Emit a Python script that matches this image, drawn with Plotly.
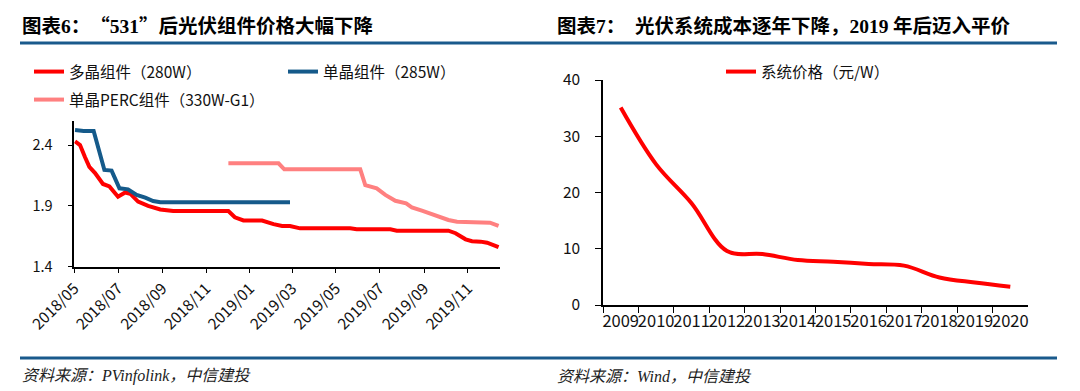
import plotly.graph_objects as go

# ---------------- Chart 6: module prices (元/W) ----------------
poly_dates = ["2018-05-02", "2018-05-09", "2018-05-16", "2018-05-22", "2018-05-30",
              "2018-06-10", "2018-06-19", "2018-07-01", "2018-07-11", "2018-07-18",
              "2018-07-29", "2018-08-12", "2018-08-29", "2018-09-16", "2018-12-02",
              "2018-12-11", "2018-12-23", "2019-01-18", "2019-02-03", "2019-02-15",
              "2019-02-26", "2019-03-12", "2019-05-21", "2019-05-30", "2019-07-16",
              "2019-07-25", "2019-10-05", "2019-10-15", "2019-10-29", "2019-11-07",
              "2019-11-19", "2019-11-28", "2019-12-14"]
poly_vals = [2.43, 2.40, 2.30, 2.22, 2.17,
             2.08, 2.06, 1.975, 2.01, 2.00,
             1.935, 1.90, 1.87, 1.857, 1.857,
             1.806, 1.78, 1.78, 1.75, 1.735,
             1.735, 1.715, 1.715, 1.707, 1.707,
             1.696, 1.696, 1.675, 1.625, 1.61,
             1.606, 1.597, 1.56]

mono_dates = ["2018-05-02", "2018-05-14", "2018-05-28", "2018-06-12", "2018-06-22",
              "2018-07-03", "2018-07-15", "2018-07-27", "2018-08-08", "2018-08-19",
              "2018-08-29", "2019-02-26"]
mono_vals = [2.523, 2.515, 2.515, 2.195, 2.19,
             2.044, 2.036, 1.99, 1.967, 1.94,
             1.93, 1.93]

perc_dates = ["2018-12-02", "2019-02-10", "2019-02-18", "2019-06-04", "2019-06-11",
              "2019-06-18", "2019-06-27", "2019-07-09", "2019-07-23", "2019-08-07",
              "2019-08-15", "2019-08-29", "2019-09-19", "2019-10-05", "2019-10-17",
              "2019-11-26", "2019-12-02", "2019-12-14"]
perc_vals = [2.25, 2.25, 2.20, 2.20, 2.07,
             2.057, 2.044, 1.99, 1.942, 1.92,
             1.888, 1.86, 1.817, 1.784, 1.77,
             1.77, 1.762, 1.735]

# ---------------- Chart 7: system price (元/W) ----------------
years = ["2009", "2010", "2011", "2012", "2013", "2014",
         "2015", "2016", "2017", "2018", "2019", "2020"]
system_price = [35.1, 25.0, 18.1, 9.6, 9.05, 8.0, 7.7, 7.3, 7.0, 4.9, 4.0, 3.25]

W, H = 1080, 391
def fx(px):
    return px / W
def fy(py):
    return 1 - py / H

CJK = "Noto Sans CJK SC"
SERIF = "Liberation Serif"
RULE = "#1A5A8C"

fig = go.Figure()
fig.add_trace(go.Scatter(x=poly_dates, y=poly_vals, name="多晶组件（280W）", mode="lines",
                         line=dict(color="#FF0000", width=4), xaxis="x", yaxis="y",
                         legend="legend"))
fig.add_trace(go.Scatter(x=mono_dates, y=mono_vals, name="单晶组件（285W）", mode="lines",
                         line=dict(color="#155A8A", width=4), xaxis="x", yaxis="y",
                         legend="legend2"))
fig.add_trace(go.Scatter(x=perc_dates, y=perc_vals, name="单晶PERC组件（330W-G1）", mode="lines",
                         line=dict(color="#FF8080", width=4), xaxis="x", yaxis="y",
                         legend="legend3"))
fig.add_trace(go.Scatter(x=years, y=system_price, name="系统价格（元/W）", mode="lines",
                         line=dict(color="#FF0000", width=4, shape="spline", smoothing=1.0),
                         xaxis="x2", yaxis="y2", legend="legend4"))

axis_common = dict(showline=True, linecolor="black", linewidth=1.5, ticks="outside",
                   tickcolor="black", tickwidth=1.2, showgrid=False, zeroline=False,
                   automargin=False)

leg_common = dict(xanchor="left", yanchor="middle", bgcolor="rgba(0,0,0,0)",
                  font=dict(family=CJK, size=15.5, color="#111"), borderwidth=0)

fig.update_layout(
    width=W, height=H,
    margin=dict(l=0, r=0, t=0, b=0, pad=0, autoexpand=False),
    paper_bgcolor="white", plot_bgcolor="white",
    font=dict(family=CJK, color="#111"),
    xaxis=dict(domain=[fx(74.3), fx(500)], type="date",
               range=["2018-05-01", "2019-12-16"], tick0="2018-05-01", dtick="M2",
               tickformat="%Y/%m", tickangle=-45, ticklen=5,
               tickfont=dict(family=CJK, size=15.5, color="#111"), anchor="y",
               **axis_common),
    yaxis=dict(domain=[fy(266.7), fy(120.7)], range=[1.4, 2.6], tick0=1.4, dtick=0.5,
               tickformat=".1f", ticklen=5, ticklabelstandoff=12,
               tickfont=dict(family=CJK, size=14.5, color="#111"), anchor="x",
               **axis_common),
    xaxis2=dict(domain=[fx(603), fx(1028)], type="category",
                categoryorder="array", categoryarray=years, range=[-0.5, 11.5],
                tickson="boundaries", ticklen=6, tickangle=0,
                tickfont=dict(family=CJK, size=16.5, color="#111"), anchor="y2",
                **axis_common),
    yaxis2=dict(domain=[fy(305), fy(80)], range=[0, 40], dtick=10, ticklen=6,
                ticklabelstandoff=12,
                tickfont=dict(family=CJK, size=15.5, color="#111"), anchor="x2",
                **axis_common),
    legend=dict(x=fx(29), y=fy(72), **leg_common),
    legend2=dict(x=fx(283), y=fy(72), **leg_common),
    legend3=dict(x=fx(29), y=fy(100), **leg_common),
    legend4=dict(x=fx(721), y=fy(72), **leg_common),
    showlegend=True,
)

# title rule and bottom rule
fig.add_shape(type="line", xref="paper", yref="paper", x0=fx(20), x1=fx(1057),
              y0=fy(43), y1=fy(43), line=dict(color=RULE, width=3))
fig.add_shape(type="line", xref="paper", yref="paper", x0=fx(20), x1=fx(1057),
              y0=fy(358), y1=fy(358), line=dict(color=RULE, width=3))

def serif(s):
    return f"<span style=\"font-family:'{SERIF}'\">{s}</span>"

title6 = f"<b>图表{serif('6')}：\u3000“{serif('531')}”后光伏组件价格大幅下降</b>"
title7 = f"<b>图表{serif('7')}：\u3000光伏系统成本逐年下降，{serif('2019')} 年后迈入平价</b>"

for txt, x in [(title6, 20), (title7, 555)]:
    fig.add_annotation(text=txt, xref="paper", yref="paper", x=fx(x), y=fy(25),
                       xanchor="left", yanchor="middle", showarrow=False,
                       font=dict(family=CJK, size=19.5, color="#000"))

for txt, x in [("<i>资料来源：PVinfolink，中信建投</i>", 20), ("<i>资料来源：Wind，中信建投</i>", 555)]:
    fig.add_annotation(text=txt, xref="paper", yref="paper", x=fx(x), y=fy(376),
                       xanchor="left", yanchor="middle", showarrow=False,
                       font=dict(family=SERIF + ", " + CJK, size=16, color="#222"))

fig.write_html("out.html", config={"displayModeBar": False},
               post_script="document.body.style.margin='0';document.body.style.padding='0';")
